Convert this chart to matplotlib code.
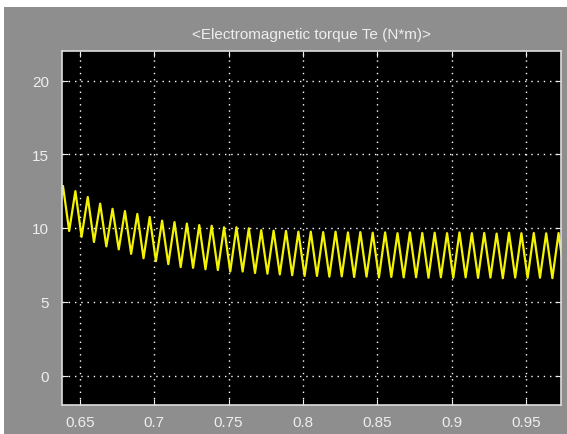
import numpy as np
import matplotlib
matplotlib.use('Agg')
import matplotlib.pyplot as plt
from matplotlib.patches import Rectangle

# scope data: one peak and one trough per 120 Hz cycle
t_first_peak = 0.6386
ripple_freq = 120.0
lead_value = 10.2
peaks = [12.85, 12.5, 12.1, 11.65, 11.3, 11.15, 10.95, 10.75, 10.5, 10.4,
         10.3, 10.2, 10.15, 10.05, 10.05, 9.98, 9.85, 9.82, 9.8, 9.75,
         9.75, 9.72, 9.75, 9.7, 9.72, 9.68, 9.7, 9.65, 9.7, 9.66,
         9.68, 9.65, 9.7, 9.65, 9.66, 9.62, 9.68, 9.65, 9.66, 9.64, 9.66]
troughs = [9.8, 9.4, 9.05, 8.75, 8.55, 8.25, 7.95, 7.75, 7.55, 7.35,
           7.3, 7.2, 7.15, 7.05, 7.05, 6.95, 6.9, 6.85, 6.8, 6.75,
           6.75, 6.7, 6.72, 6.68, 6.7, 6.65, 6.68, 6.65, 6.66, 6.63,
           6.66, 6.62, 6.65, 6.62, 6.64, 6.6, 6.64, 6.62, 6.63, 6.6, 6.62]

x_ticks = [0.65, 0.7, 0.75, 0.8, 0.85, 0.9, 0.95]
x_tick_labels = ['0.65', '0.7', '0.75', '0.8', '0.85', '0.9', '0.95']
y_ticks = [0, 5, 10, 15, 20]

# interleave peaks and troughs on the sample grid (half a period apart)
values = [lead_value]
for p, tr in zip(peaks, troughs):
    values += [p, tr]
values = np.array(values)
half = 0.5 / ripple_freq
times = t_first_peak - half + half * np.arange(len(values))

plt.rcParams['font.family'] = ['Liberation Sans', 'DejaVu Sans']

fig = plt.figure(figsize=(5.67, 4.35), dpi=100, facecolor='white')
gray = '#8e8e8e'
fig.patches.append(Rectangle((4 / 567, 0), 1, (435 - 8) / 435, transform=fig.transFigure,
                             facecolor=gray, edgecolor='none', zorder=-5))

ax = fig.add_axes([61.5 / 567, 29 / 435, (560.6 - 61.5) / 567, (406 - 52) / 435])
ax.set_zorder(2)
ax.set_facecolor('black')
ax.plot(times, values, color='#f4f400', linewidth=1.6,
        solid_joinstyle='round', solid_capstyle='round')

ax.set_xlim(0.6376, 0.9733)
ax.set_ylim(-2, 22)
ax.set_xticks(x_ticks)
ax.set_xticklabels(x_tick_labels)
ax.set_yticks(y_ticks)

txt_color = '#eeeeee'
ax.tick_params(direction='in', colors=txt_color, labelsize=11, length=4,
               top=True, right=True)
ax.tick_params(axis='x', pad=7)
ax.tick_params(axis='y', pad=9)
for s in ax.spines.values():
    s.set_color('#dddddd')
    s.set_linewidth(1.2)

ax.grid(True, color='white', linestyle=(0, (1, 3.5)), linewidth=1.0)

ax.set_title('<Electromagnetic torque Te (N*m)>', color=txt_color, fontsize=11, pad=9)

fig.savefig('out.png', dpi=100, facecolor=fig.get_facecolor())
